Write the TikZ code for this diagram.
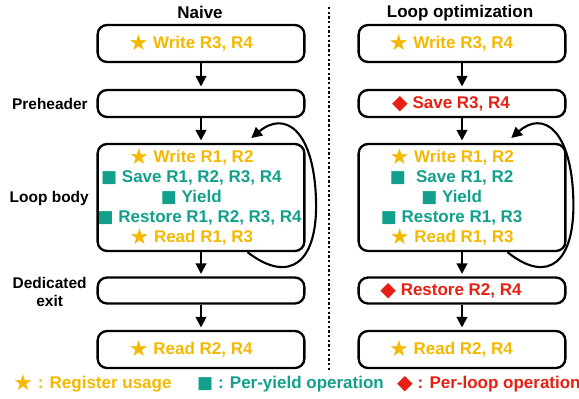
\documentclass[tikz,border=0pt]{standalone}
\usepackage{fontspec}
\usepackage{graphicx}
\setmainfont{Liberation Sans}
\newfontfamily\symfont{DejaVu Sans}
\usetikzlibrary{arrows.meta}

\definecolor{usegold}{RGB}{245,184,0}
\definecolor{yieldteal}{RGB}{18,160,140}
\definecolor{loopred}{RGB}{230,32,20}

\newcommand{\ustar}{\smash{\raisebox{-1.6pt}{\scalebox{1.3}{\symfont ★}}}}
\newcommand{\ysq}{{\symfont ■}}
\newcommand{\ldia}{\smash{\raisebox{-0.8pt}{\scalebox{1.2}{\symfont ◆}}}}

\begin{document}
\begin{tikzpicture}[
    block/.style={draw, line width=2pt, rounded corners=8pt, minimum width=6.2cm},
    txt/.style={font=\fontsize{14.5}{17}\selectfont\bfseries, inner sep=0pt},
    side/.style={font=\fontsize{13.2}{15.3}\selectfont\bfseries, align=center, inner sep=0pt},
    flow/.style={-{Triangle[length=0.32cm,width=0.32cm]}, line width=1.8pt, shorten >=2pt}
]
    \useasboundingbox (0,0) rectangle (17.37,-11.94);

    % Column titles
    \node[txt] (naive) at (6.0,-0.38) {Naive};
    \node[txt] (loopopt) at (13.8,-0.38) {Loop optimization};

    % Separator between the two columns
    \draw[dotted, line width=2pt] (9.87,-0.21) -- (9.87,-11.16);

    % Labels on the left
    \node[side, anchor=east] (prelab) at (2.64,-3.105) {Preheader};
    \node[side, anchor=east] (bodylab) at (2.67,-5.94) {Loop body};
    \node[side] (exitlab) at (1.49,-8.76) {Dedicated\\exit};

    % Naive column
    \node[block, minimum height=1.11cm] (ntop) at (6.03,-1.305) {};
    \node[block, minimum height=0.81cm] (npre) at (6.03,-3.105) {};
    \node[block, minimum height=3.21cm] (nbody) at (6.03,-5.925) {};
    \node[block, minimum height=0.78cm] (nexit) at (6.03,-8.715) {};
    \node[block, minimum height=1.11cm] (nend) at (6.03,-10.485) {};

    \node[txt, text=usegold] (ntoptxt) at (5.72,-1.305) {\ustar\ Write R3, R4};
    \node[txt, align=center] (nbodytxt) at (5.74,-5.925) {%
        \textcolor{usegold}{\ustar\ Write R1, R2}\\
        \textcolor{yieldteal}{\ysq\ Save R1, R2, R3, R4}\\
        \textcolor{yieldteal}{\ysq\ Yield}\\
        \hspace*{0.5cm}\textcolor{yieldteal}{\ysq\ Restore R1, R2, R3, R4}\\
        \textcolor{usegold}{\ustar\ Read R1, R3}};
    \node[txt, text=usegold] (nendtxt) at (5.72,-10.485) {\ustar\ Read R2, R4};

    \draw[flow] (ntop) -- (npre);
    \draw[flow] (npre) -- (nbody);
    \draw[flow] (nbody) -- (nexit);
    \draw[flow] (nexit) -- (nend);
    \draw[flow] ([xshift=-1.74cm]nbody.south east) .. controls (8.7,-8.55) and (9.54,-7.86) .. (9.48,-6.0)
        .. controls (9.42,-3.9) and (8.55,-3.3) .. ([xshift=-1.68cm,yshift=0.1cm]nbody.north east);

    % Loop optimization column
    \node[block, minimum height=1.11cm] (otop) at (13.86,-1.305) {};
    \node[block, minimum height=0.81cm] (osave) at (13.86,-3.105) {};
    \node[block, minimum height=3.21cm] (obody) at (13.86,-5.925) {};
    \node[block, minimum height=0.78cm] (orest) at (13.86,-8.715) {};
    \node[block, minimum height=1.11cm] (oend) at (13.86,-10.485) {};

    \node[txt, text=usegold] (otoptxt) at (13.53,-1.305) {\ustar\ Write R3, R4};
    \node[txt, text=loopred] (osavetxt) at (13.53,-3.105) {\ldia\ Save R3, R4};
    \node[txt, align=center] (obodytxt) at (13.55,-5.925) {%
        \textcolor{usegold}{\ustar\ Write R1, R2}\\
        \textcolor{yieldteal}{\ysq\hspace{0.6em}Save R1, R2}\\
        \textcolor{yieldteal}{\ysq\ Yield}\\
        \textcolor{yieldteal}{\ysq\ Restore R1, R3}\\
        \textcolor{usegold}{\ustar\ Read R1, R3}};
    \node[txt, text=loopred] (oresttxt) at (13.53,-8.715) {\ldia\ Restore R2, R4};
    \node[txt, text=usegold] (oendtxt) at (13.53,-10.485) {\ustar\ Read R2, R4};

    \draw[flow] (otop) -- (osave);
    \draw[flow] (osave) -- (obody);
    \draw[flow] (obody) -- (orest);
    \draw[flow] (orest) -- (oend);
    \draw[flow] ([xshift=-1.77cm]obody.south east) .. controls (16.45,-8.55) and (17.25,-7.86) .. (17.2,-6.0)
        .. controls (17.15,-3.9) and (16.3,-3.3) .. ([xshift=-1.71cm,yshift=0.1cm]obody.north east);

    % Legend
    \node[txt, text=usegold, anchor=west] (keyuse) at (0.39,-11.52) {\ustar\ : Register usage};
    \node[txt, text=yieldteal, anchor=west] (keyyield) at (5.91,-11.52) {\ysq\ : Per-yield operation};
    \node[txt, text=loopred, anchor=west] (keyloop) at (11.91,-11.52) {\ldia\ : Per-loop operation};
\end{tikzpicture}
\end{document}
